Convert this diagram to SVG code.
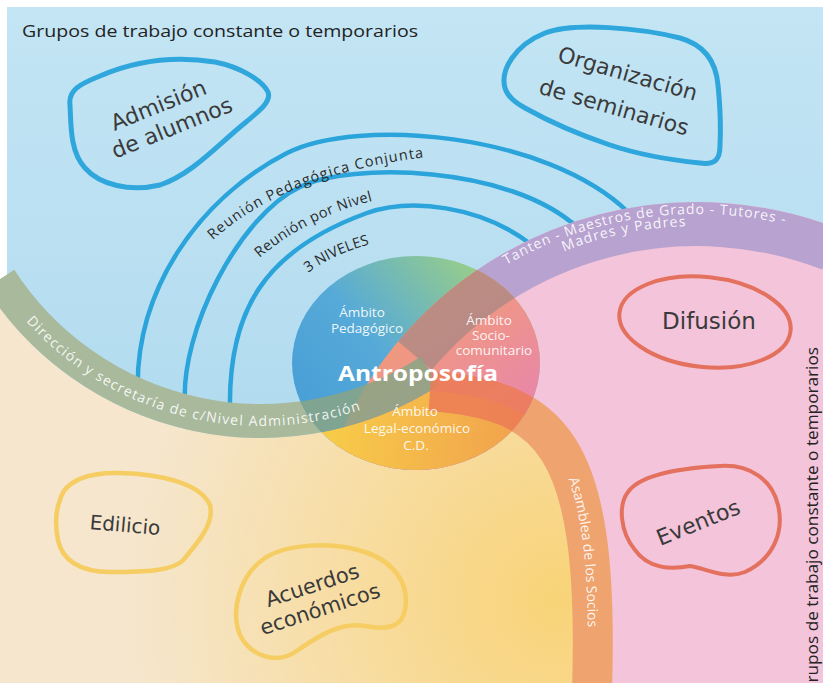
<svg xmlns="http://www.w3.org/2000/svg" width="823" height="683" viewBox="0 0 823 683">
<style>
.arc{fill:none;stroke:#2ba4dc;stroke-width:4.5;stroke-linecap:round}
.blueblob{fill:none;stroke:#2fa6dc;stroke-width:5;stroke-linejoin:round}
.redblob{fill:none;stroke:#e4705e;stroke-width:4;stroke-linejoin:round}
.yelblob{fill:none;stroke:#f5cd62;stroke-width:4.5;stroke-linejoin:round}
.blobtxt{font-family:"DejaVu Sans","Liberation Sans",sans-serif;fill:#3a3a3a;text-anchor:middle}
.title{font-family:"Open Sans","Liberation Sans",sans-serif;font-size:17px;fill:#222}
.arctxt{font-family:"Open Sans","Liberation Sans",sans-serif;font-size:14.5px;fill:#2a2a2a}
.bandtxt{font-family:"Open Sans","Liberation Sans",sans-serif;font-size:14px;fill:#ffffff;fill-opacity:0.9}
.ctxt{font-family:"Open Sans","Liberation Sans",sans-serif;font-size:13.5px;fill:#ffffff;fill-opacity:0.92;text-anchor:middle}
</style>
<defs>
  <linearGradient id="gBlue" x1="0" y1="0" x2="0" y2="1">
    <stop offset="0" stop-color="#c3e5f4"/>
    <stop offset="1" stop-color="#a8d5ec"/>
  </linearGradient>
  <radialGradient id="gLow" gradientUnits="userSpaceOnUse" cx="560" cy="600" r="430">
    <stop offset="0" stop-color="#f8d377"/>
    <stop offset="0.45" stop-color="#f8dc9e"/>
    <stop offset="1" stop-color="#f5e6cd"/>
  </radialGradient>
  <linearGradient id="gPed" gradientUnits="userSpaceOnUse" x1="300" y1="410" x2="470" y2="265">
    <stop offset="0" stop-color="#489fd6"/>
    <stop offset="0.45" stop-color="#56aad8"/>
    <stop offset="1" stop-color="#96cc8c"/>
  </linearGradient>
  <linearGradient id="gSoc" gradientUnits="userSpaceOnUse" x1="450" y1="300" x2="540" y2="420">
    <stop offset="0" stop-color="#f09a7c"/>
    <stop offset="1" stop-color="#e884b0"/>
  </linearGradient>
  <linearGradient id="gLeg" gradientUnits="userSpaceOnUse" x1="330" y1="420" x2="530" y2="440">
    <stop offset="0" stop-color="#f7cb48"/>
    <stop offset="1" stop-color="#f1a04e"/>
  </linearGradient>
  <clipPath id="cEll"><ellipse cx="416" cy="363" rx="124" ry="107"/></clipPath>
  <path id="tpAdm" d="M -4.3 281.7 A 316 316 0 0 0 432.6 375.3"/>
  <path id="tpTan1" d="M 367.9 402 A 382 382 0 0 1 1026.1 402"/>
  <path id="tpTan2" d="M 381.8 410 A 362 362 0 0 1 1012.2 410"/>
  <path id="tpAsa" d="M 429 396 C 549 405, 595 442, 587 690"/>
  <path id="tpR1" d="M 210 243 C 260 195, 340 165, 445 155"/>
  <path id="tpR2" d="M 255 262 C 290 230, 340 205, 400 195"/>
  <path id="tpR3" d="M 305 275 C 325 260, 350 248, 380 242"/>
</defs>

<rect x="0" y="0" width="823" height="683" fill="#ffffff"/>
<g id="background">
  <rect x="7" y="7" width="816" height="676" fill="url(#gBlue)"/>
</g>

<g id="connectors">
  <path class="arc" d="M 138 400 C 132 290, 200 198, 287 153 C 358 117, 546 133, 628 212"/>
  <path class="arc" d="M 185 405 C 180 330, 240 215, 300 187 C 350 162, 510 165, 578 228"/>
  <path class="arc" d="M 230 410 C 228 310, 265 250, 367 213 C 410 198, 480 205, 532 245"/>
</g>

<g id="pink-region">
  <circle cx="697" cy="592" r="390" fill="#f3c4da"/>
  <path d="M 415 355.6 A 368 368 0 0 1 830 249" fill="none" stroke="#b7a2d0" stroke-width="44"/>
</g>

<g id="lower-region">
  <path d="M 0 308.6 A 328 328 0 0 0 430 391 C 550 400, 600 440, 592 690 L 0 690 Z" fill="url(#gLow)"/>
  <path d="M 430 391 C 550 400, 600 440, 592 690" fill="none" stroke="#efa36e" stroke-width="40"/>
</g>

<g id="green-band">
  <path d="M 0 279 A 311 311 0 0 0 430 371" fill="none" stroke="#a8b99c" stroke-width="34"/>
</g>

<g id="center">
  <g clip-path="url(#cEll)">
    <rect x="280" y="250" width="270" height="230" fill="url(#gPed)"/>
    <circle cx="697" cy="592" r="390" fill="url(#gSoc)"/>
    <path d="M 0 308.6 A 328 328 0 0 0 430 391 C 550 400, 600 440, 592 690 L 0 690 Z" fill="url(#gLeg)"/>
    <path d="M 415 355.6 A 368 368 0 0 1 830 249" fill="none" stroke="#b08a84" stroke-width="44" stroke-opacity="0.85"/>
    <path d="M 0 279 A 311 311 0 0 0 430 371" fill="none" stroke="#88a585" stroke-width="34" stroke-opacity="0.85"/>
    <path d="M 430 391 C 550 400, 600 440, 592 690" fill="none" stroke="#ec7b56" stroke-width="40" stroke-opacity="0.85"/>
  </g>
  <text class="ctxt"><tspan x="362" y="317">Ámbito</tspan><tspan x="367" y="333">Pedagógico</tspan></text>
  <text class="ctxt"><tspan x="489" y="325">Ámbito</tspan><tspan x="491" y="340">Socio-</tspan><tspan x="494" y="355">comunitario</tspan></text>
  <text class="ctxt"><tspan x="415" y="416">Ámbito</tspan><tspan x="417" y="433">Legal-económico</tspan><tspan x="416" y="450">C.D.</tspan></text>
  <text x="418" y="381" font-family="'Open Sans','Liberation Sans',sans-serif" font-size="22" font-weight="bold" fill="#ffffff" text-anchor="middle" textLength="160" lengthAdjust="spacingAndGlyphs">Antroposofía</text>
</g>

<g id="band-texts">
  <text class="arctxt"><textPath href="#tpR1" startOffset="4" textLength="230" lengthAdjust="spacing">Reunión Pedagógica Conjunta</textPath></text>
  <text class="arctxt"><textPath href="#tpR2" startOffset="6" textLength="128" lengthAdjust="spacing">Reunión por Nivel</textPath></text>
  <text class="arctxt" font-size="12"><textPath href="#tpR3" startOffset="4" textLength="68" lengthAdjust="spacing">3 NIVELES</textPath></text>
  <text class="bandtxt"><textPath href="#tpAdm" startOffset="50" textLength="366" lengthAdjust="spacing">Dirección y secretaría de c/Nivel Administración</textPath></text>
  <text class="bandtxt" font-size="13.5"><textPath href="#tpTan1" startOffset="197" textLength="288" lengthAdjust="spacing">Tanten - Maestros de Grado - Tutores -</textPath></text>
  <text class="bandtxt" font-size="13.5"><textPath href="#tpTan2" startOffset="246" textLength="125" lengthAdjust="spacing">Madres y Padres</textPath></text>
  <text class="bandtxt"><textPath href="#tpAsa" startOffset="174" textLength="150" lengthAdjust="spacing">Asamblea de los Socios</textPath></text>
</g>

<g id="node-admision">
  <path class="blueblob" d="M 70 105 C 68 90, 80 84, 100 76 C 130 63, 170 55, 215 62 C 240 67, 262 80, 268 92 C 272 102, 258 112, 240 127 C 215 148, 190 175, 160 185 C 130 192, 100 185, 85 168 C 70 152, 71 125, 70 105 Z"/>
  <text class="blobtxt" font-size="22" transform="translate(165,116) rotate(-22)"><tspan x="-2" y="-5">Admisión</tspan><tspan x="2" y="21">de alumnos</tspan></text>
</g>

<g id="node-organizacion">
  <path class="blueblob" d="M 505 88 C 500 70, 515 45, 545 33 C 575 22, 640 28, 680 38 C 705 45, 716 62, 718 85 C 720 105, 721 125, 720 145 C 720 160, 715 165, 700 163 C 670 160, 640 155, 610 145 C 580 135, 550 122, 525 108 C 512 101, 507 95, 505 88 Z"/>
  <text class="blobtxt" font-size="22" transform="translate(621,90) rotate(16)"><tspan x="2" y="-10">Organización</tspan><tspan x="-2" y="26">de seminarios</tspan></text>
</g>

<g id="node-difusion">
  <ellipse class="redblob" cx="705" cy="322" rx="86" ry="45" transform="rotate(6 705 322)"/>
  <text class="blobtxt" font-size="23" x="709" y="329">Difusión</text>
</g>

<g id="node-eventos">
  <path class="redblob" d="M 628 492 C 640 475, 680 468, 720 466 C 750 464, 772 480, 778 505 C 784 530, 775 558, 745 572 C 725 580, 705 568, 690 566 C 670 570, 648 568, 635 550 C 620 532, 618 505, 628 492 Z"/>
  <text class="blobtxt" font-size="22" transform="translate(698,522) rotate(-22)" y="8">Eventos</text>
</g>

<g id="node-edilicio">
  <path class="yelblob" d="M 60 500 C 65 480, 90 472, 120 473 C 160 474, 200 483, 210 505 C 215 525, 195 545, 185 558 C 175 572, 140 572, 110 572 C 80 572, 62 560, 58 540 C 55 525, 56 510, 60 500 Z"/>
  <text class="blobtxt" font-size="20" transform="translate(125,525) rotate(5)" y="7">Edilicio</text>
</g>

<g id="node-acuerdos">
  <path class="yelblob" d="M 265 558 C 285 545, 330 540, 365 552 C 395 562, 410 585, 405 610 C 402 628, 385 630, 365 626 C 340 622, 320 635, 295 652 C 275 665, 250 655, 240 635 C 230 610, 240 575, 265 558 Z"/>
  <text class="blobtxt" font-size="21" transform="translate(316,597) rotate(-18)"><tspan x="0" y="-5">Acuerdos</tspan><tspan x="0" y="20">económicos</tspan></text>
</g>

<g id="titles">
  <text class="title" x="22" y="37" textLength="396" lengthAdjust="spacingAndGlyphs">Grupos de trabajo constante o temporarios</text>
  <text class="title" font-size="16" transform="translate(818,347) rotate(-90)" text-anchor="end" textLength="348" lengthAdjust="spacingAndGlyphs">Grupos de trabajo constante o temporarios</text>
</g>
</svg>
